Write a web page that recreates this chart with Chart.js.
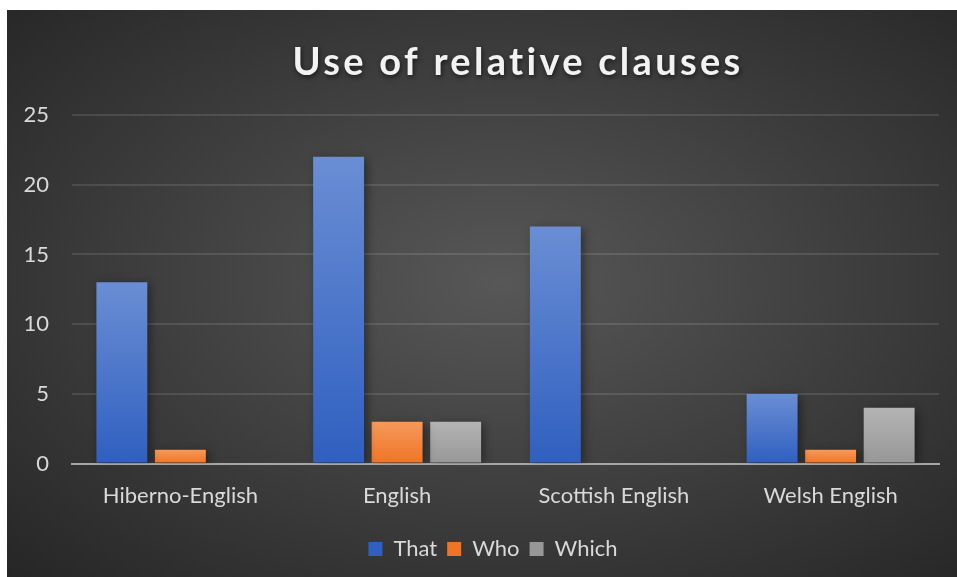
<!DOCTYPE html>
<html>
<head>
<meta charset="utf-8">
<script src="https://cdn.jsdelivr.net/npm/chart.js@4.4.1/dist/chart.umd.min.js"></script>
<style>
  html, body { margin: 0; padding: 0; background: #fff; }
  #frame {
    position: absolute; left: 7px; top: 10px; width: 950px; height: 567px;
    background: radial-gradient(ellipse farthest-corner at 52% 48%, #575757 0%, #3c3c3c 55%, #262626 100%);
  }
  canvas { display: block; }
</style>
</head>
<body>
<div id="frame"><canvas id="chart" width="950" height="567"></canvas></div>
<script>
const categories = ["Hiberno-English", "English", "Scottish English", "Welsh English"];
const thatValues = [13, 22, 17, 5];
const whoValues = [1, 3, 0, 1];
const whichValues = [0, 3, 0, 4];
const yTicks = [0, 5, 10, 15, 20, 25];
const title = "Use of relative clauses";

// top / bottom colour of each series' bar gradient
const seriesColours = {
  That:  ["#6a8ed4", "#2f5fc0"],
  Who:   ["#f6995a", "#f07425"],
  Which: ["#b4b4b4", "#979797"],
};

function barGradient(name) {
  return ctx => {
    const chart = ctx.chart;
    const y = chart.scales.y;
    if (!y || ctx.parsed === undefined) return seriesColours[name][1];
    const top = y.getPixelForValue(ctx.parsed.y);
    const bottom = y.getPixelForValue(0);
    if (!isFinite(top) || top === bottom) return seriesColours[name][1];
    const g = chart.ctx.createLinearGradient(0, top, 0, bottom);
    g.addColorStop(0, seriesColours[name][0]);
    g.addColorStop(1, seriesColours[name][1]);
    return g;
  };
}

const barShadow = {
  id: "barShadow",
  beforeDatasetsDraw(chart) {
    const c = chart.ctx;
    c.save();
    c.shadowColor = "rgba(0,0,0,0.45)";
    c.shadowBlur = 9;
    c.shadowOffsetX = 3;
    c.shadowOffsetY = 2;
  },
  afterDatasetsDraw(chart) { chart.ctx.restore(); },
};

// the legend sits a little right of the canvas centre
const legendShift = {
  id: "legendShift",
  beforeDraw(chart) {
    const lg = chart.legend;
    if (!lg || lg._shifted) return;
    lg.left += 20;
    lg.right += 20;
    lg._shifted = true;
  },
};

const titlePlugin = {
  id: "titlePlugin",
  afterDraw(chart) {
    const c = chart.ctx;
    c.save();
    c.font = "bold 38px Lato";
    c.letterSpacing = "3.3px";
    c.fillStyle = "#f2f2f2";
    c.textAlign = "center";
    c.textBaseline = "middle";
    c.shadowColor = "rgba(0,0,0,0.6)";
    c.shadowBlur = 5;
    c.shadowOffsetX = 1;
    c.shadowOffsetY = 2;
    c.fillText(title, 511, 53);
    c.restore();
  },
};

const tickColour = "#d9d9d9";
const tickFont = { family: "Lato", size: 22 };

new Chart(document.getElementById("chart"), {
  type: "bar",
  data: {
    labels: categories,
    datasets: [
      { label: "That", data: thatValues, backgroundColor: barGradient("That") },
      { label: "Who", data: whoValues, backgroundColor: barGradient("Who") },
      { label: "Which", data: whichValues, backgroundColor: barGradient("Which") },
    ],
  },
  options: {
    responsive: false,
    animation: false,
    layout: { padding: { top: 105, right: 18, left: 0, bottom: 7 } },
    datasets: { bar: { categoryPercentage: 0.81, barPercentage: 0.87 } },
    plugins: {
      title: { display: false },
      tooltip: { enabled: false },
      legend: {
        position: "bottom",
        labels: {
          color: tickColour,
          font: tickFont,
          boxWidth: 14,
          boxHeight: 14,
          padding: 10,
          generateLabels: chart => chart.data.datasets.map((d, i) => ({
            text: d.label,
            fillStyle: seriesColours[d.label][1],
            strokeStyle: "transparent",
            lineWidth: 0,
            fontColor: tickColour,
            datasetIndex: i,
          })),
        },
      },
    },
    scales: {
      x: {
        grid: { display: false },
        border: { display: true, color: "#a6a6a6", width: 2 },
        ticks: { color: tickColour, font: tickFont, padding: 11 },
        afterFit: s => { s.height += 8; },
      },
      y: {
        min: 0,
        max: 25,
        afterBuildTicks: s => { s.ticks = yTicks.map(v => ({ value: v })); },
        afterFit: s => { s.width = 65; },
        grid: { color: "rgba(255,255,255,0.11)", lineWidth: 2, drawTicks: false },
        border: { display: false },
        ticks: { color: tickColour, font: tickFont, padding: 23 },
      },
    },
  },
  plugins: [barShadow, legendShift, titlePlugin],
});
</script>
</body>
</html>
